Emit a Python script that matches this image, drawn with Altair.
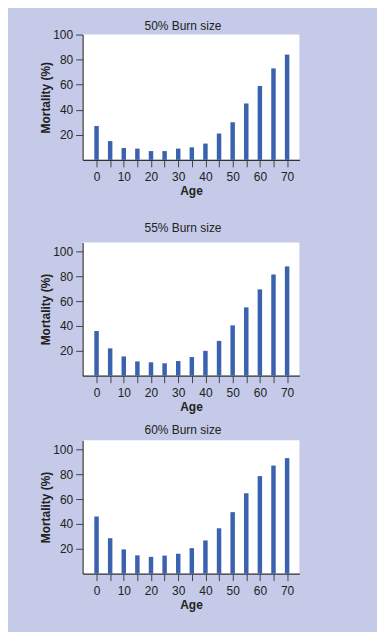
import altair as alt
import pandas as pd

ages = [0, 5, 10, 15, 20, 25, 30, 35, 40, 45, 50, 55, 60, 65, 70]
mort_50 = [27, 15, 9.5, 9, 7, 7, 9, 10, 13, 21, 30, 45, 59, 73, 84]
mort_55 = [36, 22, 15.5, 11.5, 10.8, 10, 11.8, 15, 20, 28, 40.5, 55, 69.5, 81.5, 88]
mort_60 = [46, 28.5, 19.5, 14.7, 13.5, 14.5, 16, 20.5, 26.7, 36.5, 49.5, 64.7, 78.5, 87, 93]
titles = ["50% Burn size", "55% Burn size", "60% Burn size"]
y_ticks = [20, 40, 60, 80, 100]

BG = "#c4cae7"
BAR = "#3b62ae"
FONT = "Liberation Sans"


def panel(values, title, ymax, height, offset):
    df = pd.DataFrame({"Age": ages, "Mortality": values})
    return (
        alt.Chart(df, title=alt.TitleParams(title, fontSize=12, fontWeight="normal",
                                            font=FONT, color="#222", offset=offset, dx=-8,
                                            frame="group"))
        .mark_bar(size=4.5, color=BAR)
        .encode(
            x=alt.X("Age:Q",
                    scale=alt.Scale(domain=[-3.3, 72.7], nice=False, zero=False),
                    axis=alt.Axis(values=ages, labelExpr="datum.value % 10 == 0 ? datum.label : ''",
                                  tickSize=7, labelPadding=5, titlePadding=3, grid=False,
                                  title="Age")),
            y=alt.Y("Mortality:Q",
                    scale=alt.Scale(domain=[0, ymax], nice=False),
                    axis=alt.Axis(values=y_ticks, tickSize=7, labelPadding=3, titlePadding=0,
                                  grid=False, title="Mortality (%)")),
        )
        .properties(width=218, height=height)
    )


p1 = panel(mort_50, titles[0], 100, 126, -4)
p2 = panel(mort_55, titles[1], 107.3, 134, 7.6)
p3 = panel(mort_60, titles[2], 107.3, 134, 3.7)

chart = (
    alt.vconcat(p1, alt.vconcat(p2, p3, spacing=11), spacing=25)
    .properties(background=BG, padding={"left": 31, "top": 10, "right": 78, "bottom": 20})
    .configure_view(fill="white", stroke=None)
    .configure_axis(domainColor="#333", tickColor="#444", labelColor="#222", titleColor="#222",
                    labelFont=FONT, titleFont=FONT, labelFontSize=12, titleFontSize=12,
                    titleFontWeight="bold", domainWidth=1.2, tickWidth=1)
)

chart.save("out.html", embed_options={"renderer": "svg", "actions": False})
